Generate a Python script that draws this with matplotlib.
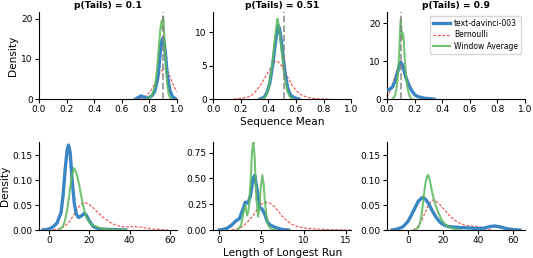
import matplotlib
matplotlib.use("Agg")
import matplotlib.pyplot as plt

# ---- data (KDE curves as x/y points) ----
p_tails = [0.1, 0.51, 0.9]
ref_lines = [0.9, 0.51, 0.1]   # grey dashed reference line in each top panel

# Sequence mean, p = 0.1
mean1_llm_x = [0.70, 0.72, 0.74, 0.76, 0.78, 0.80, 0.82, 0.84, 0.86, 0.87, 0.88, 0.89, 0.90, 0.91, 0.92, 0.93, 0.95, 0.97, 0.99]
mean1_llm_y = [0.0, 0.4, 0.8, 0.5, 0.2, 0.4, 0.9, 2.0, 5.0, 8.0, 12.0, 14.5, 15.2, 13.5, 10.0, 6.0, 2.0, 0.5, 0.1]
mean1_bern_x = [0.70, 0.74, 0.78, 0.80, 0.82, 0.84, 0.86, 0.88, 0.90, 0.92, 0.94, 0.96, 0.98, 1.00]
mean1_bern_y = [0.0, 0.2, 0.9, 1.6, 2.6, 3.9, 5.4, 6.6, 7.5, 7.6, 6.6, 4.6, 3.0, 1.8]
mean1_win_x = [0.78, 0.80, 0.82, 0.84, 0.85, 0.86, 0.87, 0.88, 0.885, 0.89, 0.895, 0.90, 0.905, 0.91, 0.92, 0.93, 0.94, 0.95, 0.96]
mean1_win_y = [0.0, 0.3, 1.0, 3.0, 5.5, 9.0, 13.5, 17.5, 18.5, 19.5, 17.5, 20.5, 18.0, 14.5, 8.0, 3.5, 1.2, 0.3, 0.0]

# Sequence mean, p = 0.51
mean2_llm_x = [0.34, 0.37, 0.39, 0.41, 0.43, 0.45, 0.46, 0.47, 0.48, 0.49, 0.50, 0.52, 0.54, 0.56, 0.58, 0.60, 0.62]
mean2_llm_y = [0.0, 0.3, 1.0, 2.4, 5.0, 8.3, 9.8, 11.0, 10.6, 9.2, 7.5, 4.0, 1.6, 0.6, 0.3, 0.1, 0.0]
mean2_bern_x = [0.15, 0.20, 0.25, 0.28, 0.31, 0.34, 0.37, 0.40, 0.43, 0.45, 0.47, 0.49, 0.52, 0.55, 0.58, 0.61, 0.64, 0.68, 0.72, 0.78, 0.85]
mean2_bern_y = [0.0, 0.1, 0.3, 0.6, 1.2, 2.0, 3.0, 4.1, 5.1, 5.7, 5.6, 5.1, 4.0, 2.9, 1.8, 1.1, 0.6, 0.3, 0.1, 0.02, 0.0]
mean2_win_x = [0.36, 0.38, 0.40, 0.42, 0.44, 0.45, 0.46, 0.465, 0.47, 0.48, 0.49, 0.50, 0.52, 0.54, 0.56, 0.58]
mean2_win_y = [0.0, 0.4, 1.5, 4.0, 7.5, 9.5, 11.2, 12.0, 11.6, 10.2, 8.2, 6.3, 3.0, 1.0, 0.2, 0.0]

# Sequence mean, p = 0.9
mean3_llm_x = [0.00, 0.02, 0.04, 0.06, 0.08, 0.09, 0.10, 0.11, 0.12, 0.13, 0.14, 0.16, 0.18, 0.20, 0.22, 0.25, 0.28, 0.31, 0.34]
mean3_llm_y = [2.3, 2.6, 3.2, 4.8, 7.5, 9.0, 9.7, 9.2, 8.0, 6.6, 5.4, 3.6, 2.2, 1.2, 0.7, 0.4, 0.2, 0.1, 0.0]
mean3_bern_x = [0.00, 0.02, 0.04, 0.06, 0.08, 0.10, 0.12, 0.14, 0.16, 0.18, 0.20, 0.23, 0.26, 0.30]
mean3_bern_y = [0.5, 1.8, 4.0, 6.3, 8.5, 9.4, 8.3, 6.3, 4.0, 2.3, 1.2, 0.5, 0.2, 0.0]
mean3_win_x = [0.04, 0.06, 0.07, 0.08, 0.09, 0.095, 0.10, 0.105, 0.11, 0.115, 0.12, 0.13, 0.14, 0.15, 0.16, 0.17, 0.18]
mean3_win_y = [0.0, 1.0, 3.0, 7.0, 13.0, 18.0, 21.0, 18.5, 16.0, 17.5, 16.5, 10.0, 5.5, 2.8, 1.2, 0.4, 0.0]

# Longest run, p = 0.1
run1_llm_x = [-3, 0, 2, 4, 6, 7, 8, 9, 9.7, 10.5, 11.5, 12.5, 13.5, 14.7, 16, 17.5, 18.5, 20, 22, 25, 30, 38]
run1_llm_y = [0.0, 0.002, 0.006, 0.014, 0.035, 0.07, 0.12, 0.16, 0.17, 0.155, 0.10, 0.055, 0.032, 0.025, 0.028, 0.033, 0.03, 0.018, 0.007, 0.002, 0.001, 0.0]
run1_bern_x = [2, 5, 8, 10, 12, 14, 16, 18, 20, 22, 24, 27, 30, 33, 36, 39, 42, 45, 48, 51, 55, 59]
run1_bern_y = [0.0, 0.002, 0.008, 0.016, 0.028, 0.042, 0.052, 0.055, 0.051, 0.044, 0.036, 0.025, 0.016, 0.010, 0.007, 0.006, 0.007, 0.006, 0.004, 0.002, 0.001, 0.0]
run1_win_x = [5, 7, 8, 9, 10, 11, 12.2, 13, 14, 15, 16, 17, 18, 19, 20, 22, 25, 30, 38]
run1_win_y = [0.0, 0.008, 0.02, 0.04, 0.068, 0.1, 0.124, 0.12, 0.108, 0.09, 0.068, 0.048, 0.032, 0.022, 0.016, 0.009, 0.004, 0.001, 0.0]

# Longest run, p = 0.51
run2_llm_x = [0.0, 0.5, 1.0, 1.5, 2.0, 2.4, 2.8, 3.1, 3.4, 3.7, 4.0, 4.2, 4.5, 4.8, 5.1, 5.4, 5.7, 6.0, 6.5, 7.0, 7.5, 8.2]
run2_llm_y = [0.0, 0.005, 0.02, 0.05, 0.09, 0.11, 0.2, 0.27, 0.26, 0.33, 0.5, 0.53, 0.38, 0.22, 0.2, 0.15, 0.08, 0.05, 0.03, 0.015, 0.005, 0.0]
run2_bern_x = [1.5, 2.5, 3.0, 3.5, 4.0, 4.5, 5.0, 5.5, 6.0, 6.5, 7.0, 7.5, 8.0, 8.5, 9.0, 10.0, 11.0, 12.0, 13.0, 14.0, 15.5]
run2_bern_y = [0.0, 0.02, 0.05, 0.09, 0.14, 0.2, 0.25, 0.27, 0.26, 0.23, 0.18, 0.13, 0.09, 0.06, 0.04, 0.02, 0.012, 0.007, 0.004, 0.002, 0.0]
run2_win_x = [2.2, 2.6, 2.9, 3.1, 3.3, 3.5, 3.7, 3.9, 4.05, 4.2, 4.4, 4.6, 4.75, 4.9, 5.1, 5.25, 5.4, 5.6, 5.8, 6.0, 6.3, 6.6]
run2_win_y = [0.0, 0.05, 0.18, 0.24, 0.14, 0.2, 0.45, 0.78, 0.86, 0.7, 0.3, 0.13, 0.2, 0.4, 0.53, 0.45, 0.28, 0.12, 0.05, 0.02, 0.005, 0.0]

# Longest run, p = 0.9
run3_llm_x = [-9, -6, -3, 0, 2, 4, 6, 8.3, 10, 12, 14, 16, 18, 20, 23, 26, 30, 35, 40, 44, 47, 50, 53, 56, 60, 64]
run3_llm_y = [0.0, 0.002, 0.006, 0.017, 0.03, 0.044, 0.058, 0.065, 0.062, 0.052, 0.038, 0.026, 0.017, 0.011, 0.007, 0.006, 0.005, 0.004, 0.003, 0.004, 0.007, 0.008, 0.006, 0.003, 0.001, 0.0]
run3_bern_x = [3, 6, 8, 10, 12, 14, 16, 18, 20, 22, 24, 27, 30, 33, 36, 39, 42, 45, 48]
run3_bern_y = [0.0, 0.008, 0.02, 0.036, 0.052, 0.06, 0.058, 0.052, 0.044, 0.036, 0.028, 0.019, 0.013, 0.009, 0.008, 0.007, 0.005, 0.002, 0.0]
run3_win_x = [4, 6, 7, 8, 9, 10, 11, 11.6, 12.5, 13.5, 14.5, 16, 17.5, 19, 21, 24, 27, 30]
run3_win_y = [0.0, 0.005, 0.015, 0.035, 0.065, 0.093, 0.108, 0.11, 0.1, 0.082, 0.066, 0.048, 0.034, 0.022, 0.012, 0.005, 0.002, 0.0]

blue = "#2f7fc1"
red = "#f04848"
green = "#5cb85c"


def draw(ax, llm, bern, win):
    ax.plot(llm[0], llm[1], color=blue, lw=2.4, alpha=0.95, label="text-davinci-003", zorder=3)
    ax.plot(bern[0], bern[1], color=red, lw=0.8, ls=(0, (2.5, 1.5)), label="Bernoulli", zorder=2)
    ax.plot(win[0], win[1], color=green, lw=1.5, alpha=0.85, label="Window Average", zorder=4)
    for s in ["top", "right"]:
        ax.spines[s].set_visible(False)
    for s in ["left", "bottom"]:
        ax.spines[s].set_linewidth(0.8)
    ax.tick_params(labelsize=6.5, length=3, width=0.8, pad=1.5)


fig = plt.figure(figsize=(5.33, 2.58), dpi=100)
lefts = [0.073, 0.400, 0.726]
w = 0.259

top_axes = [fig.add_axes([l, 0.616, w, 0.337]) for l in lefts]
bot_axes = [fig.add_axes([l, 0.1085, w, 0.341]) for l in lefts]

mean_data = [
    ((mean1_llm_x, mean1_llm_y), (mean1_bern_x, mean1_bern_y), (mean1_win_x, mean1_win_y)),
    ((mean2_llm_x, mean2_llm_y), (mean2_bern_x, mean2_bern_y), (mean2_win_x, mean2_win_y)),
    ((mean3_llm_x, mean3_llm_y), (mean3_bern_x, mean3_bern_y), (mean3_win_x, mean3_win_y)),
]
run_data = [
    ((run1_llm_x, run1_llm_y), (run1_bern_x, run1_bern_y), (run1_win_x, run1_win_y)),
    ((run2_llm_x, run2_llm_y), (run2_bern_x, run2_bern_y), (run2_win_x, run2_win_y)),
    ((run3_llm_x, run3_llm_y), (run3_bern_x, run3_bern_y), (run3_win_x, run3_win_y)),
]

top_ylims = [21.6, 13.0, 23.0]
top_yticks = [[0, 10, 20], [0, 5, 10], [0, 10, 20]]
for i, ax in enumerate(top_axes):
    draw(ax, *mean_data[i])
    ax.axvline(ref_lines[i], color="gray", ls="--", lw=1.3, alpha=0.8, zorder=5)
    ax.set_xlim(0, 1)
    ax.set_ylim(0, top_ylims[i])
    ax.set_yticks(top_yticks[i])
    ax.set_xticks([0.0, 0.2, 0.4, 0.6, 0.8, 1.0])
    ax.set_title(f"p(Tails) = {p_tails[i]}", fontsize=6.6, fontweight="bold", pad=3)

bot_xlims = [(-5, 63.5), (-0.7, 15.6), (-12, 67)]
bot_xticks = [[0, 20, 40, 60], [0, 5, 10, 15], [0, 20, 40, 60]]
bot_ylims = [0.176, 0.853, 0.176]
bot_yticks = [[0, 0.05, 0.10, 0.15], [0, 0.25, 0.5, 0.75], [0, 0.05, 0.10, 0.15]]
for i, ax in enumerate(bot_axes):
    draw(ax, *run_data[i])
    ax.set_xlim(*bot_xlims[i])
    ax.set_xticks(bot_xticks[i])
    ax.set_ylim(0, bot_ylims[i])
    ax.set_yticks(bot_yticks[i])
    ax.yaxis.set_major_formatter(matplotlib.ticker.FormatStrFormatter("%.2f"))

top_axes[0].set_ylabel("Density", fontsize=7.6, labelpad=2)
bot_axes[0].set_ylabel("Density", fontsize=7.6, labelpad=2)
top_axes[1].set_xlabel("Sequence Mean", fontsize=7.6, labelpad=2)
bot_axes[1].set_xlabel("Length of Longest Run", fontsize=7.6, labelpad=2)

top_axes[2].legend(loc="upper right", fontsize=5.5, frameon=True, handlelength=2.2,
                   borderpad=0.4, labelspacing=0.3, handletextpad=0.6)

fig.savefig("out.png", dpi=100)
